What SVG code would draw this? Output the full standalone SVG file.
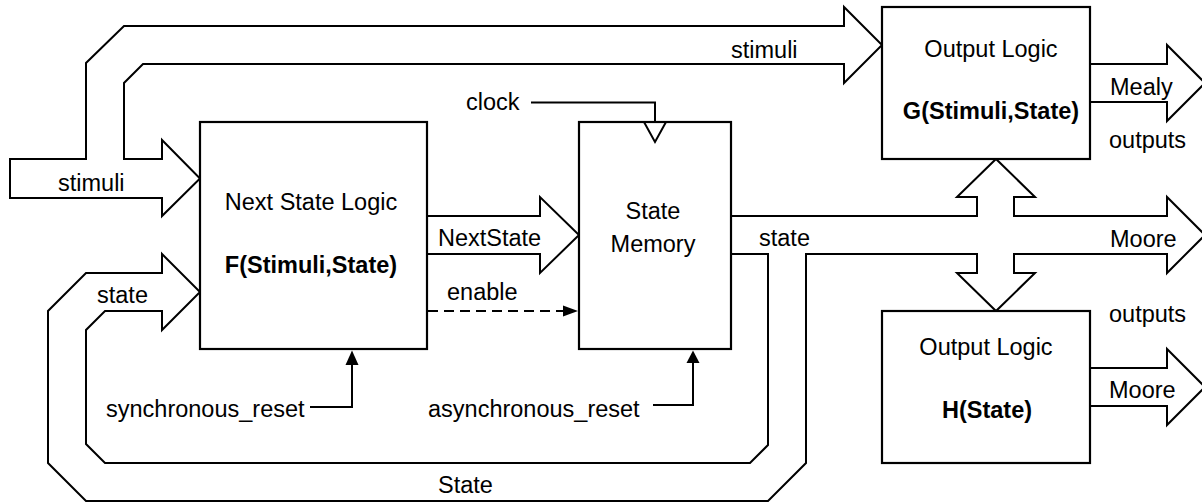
<svg xmlns="http://www.w3.org/2000/svg" width="1202" height="503" viewBox="0 0 1202 503">
<style>
  .bus{fill:#fff;stroke:#000;stroke-width:2;stroke-linejoin:miter}
  .box{fill:#fff;stroke:#000;stroke-width:2.2}
  .ln{fill:none;stroke:#000;stroke-width:2}
  .dash{fill:none;stroke:#000;stroke-width:2;stroke-dasharray:10 6}
  .hd{fill:#000;stroke:none}
  text{font-family:"Liberation Sans",Arial,sans-serif;font-size:23.5px;fill:#000}
  .b{font-weight:bold}
  .m{text-anchor:middle}
</style>
<rect width="1202" height="503" fill="#fff"/>
<g id="connectors">
  <path class="bus" d="M10,198 H162 V216 L200,178.5 L162,140 V159 H124 V83 L143,64 H844 V83 L882,45 L844,7 V26 H124 L86,63 V159 H10 Z"/>
  <path class="bus" d="M731,216 H977 V197 H957 L996,159 L1035,197 H1014 V216 H1167 V197 L1205,235 L1167,273 V254 H1014 V273 H1035 L996,311 L957,273 H977 V254 H806 V463 L768,501 H86 L48,463 V311 L86,273 H162 V254 L200,292 L162,330 V311 H105 L86,330 V444 L105,463 H750 L768,445 V254 H731"/>
  <path class="bus" d="M427,216 H540 V197 L579,235 L540,273 V254 H427"/>
  <path class="bus" d="M1090,64 H1167 V45 L1205,83 L1167,121 V102 H1090"/>
  <path class="bus" d="M1090,368 H1167 V349 L1205,387 L1167,425 V406 H1090"/>
  <path class="ln" d="M531,102.5 H655 V122"/>
  <path class="dash" d="M428,311 H565"/>
  <polygon class="hd" points="563,305.5 578,311 563,316.5"/>
  <path class="ln" d="M310,407 H352 V362"/>
  <polygon class="hd" points="345.5,365 352,350.5 358.5,365"/>
  <path class="ln" d="M653,405 H693 V360"/>
  <polygon class="hd" points="686.5,363 693,350.5 699.5,363"/>
  <text x="58" y="191">stimuli</text>
  <text x="731" y="58">stimuli</text>
  <text x="466" y="110">clock</text>
  <text x="438" y="246">NextState</text>
  <text x="447" y="300">enable</text>
  <text x="106" y="417">synchronous_reset</text>
  <text x="428" y="417">asynchronous_reset</text>
  <text x="97" y="303">state</text>
  <text x="759" y="246">state</text>
  <text x="438" y="493">State</text>
  <text x="1110" y="95">Mealy</text>
  <text x="1109" y="148">outputs</text>
  <text x="1110" y="247">Moore</text>
  <text x="1109" y="322">outputs</text>
  <text x="1109" y="398">Moore</text>
</g>
<g id="next-state-logic">
  <rect class="box" x="200" y="122" width="227" height="227"/>
  <text class="m" x="311" y="210">Next State Logic</text>
  <text class="m b" x="311" y="273">F(Stimuli,State)</text>
</g>
<g id="state-memory">
  <rect class="box" x="579" y="122" width="152" height="227"/>
  <path class="ln" d="M644,122 L655,142 L666,122"/>
  <text class="m" x="653" y="219">State</text>
  <text class="m" x="653" y="252">Memory</text>
</g>
<g id="output-logic-g">
  <rect class="box" x="882" y="7" width="208" height="152"/>
  <text class="m" x="991" y="57">Output Logic</text>
  <text class="m b" x="991" y="119">G(Stimuli,State)</text>
</g>
<g id="output-logic-h">
  <rect class="box" x="882" y="311" width="208" height="152"/>
  <text class="m" x="986" y="355">Output Logic</text>
  <text class="m b" x="987" y="418">H(State)</text>
</g>
</svg>
